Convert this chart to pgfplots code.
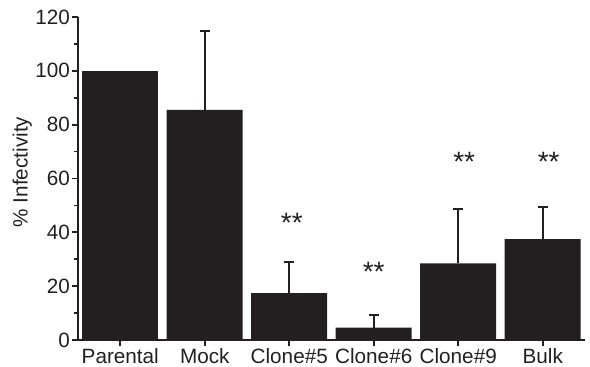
\documentclass[border=0pt]{standalone}
\usepackage{fontspec}
\setmainfont{Liberation Sans}
\usepackage{pgfplots}
\pgfplotsset{compat=1.18}
\definecolor{barc}{HTML}{231F20}
\begin{document}
\fontsize{20.7}{24}\selectfont
\begin{tikzpicture}
\useasboundingbox (-78pt,-27pt) rectangle (512pt,340pt);
\begin{axis}[
  at={(0,0)}, anchor=south west,
  scale only axis, width=507pt, height=323pt,
  xmin=-0.5, xmax=5.5, ymin=0, ymax=120,
  axis x line*=bottom, axis y line*=left,
  axis line style={line width=1.8pt, color=barc, -},
  ytick={0,20,...,120}, minor ytick={10,30,...,110},
  xtick={0,...,5},
  xticklabels={Parental,Mock,Clone\#5,Clone\#6,Clone\#9,Bulk},
  tick align=outside,
  major tick length=6pt, minor tick length=4pt,
  tick style={line width=1.8pt, color=barc},
  /pgf/number format/assume math mode=true,
  tick label style={font=\fontsize{20.7}{24}\selectfont, text=barc},
  yticklabel style={inner sep=1pt, xshift=-1pt},
  xticklabel style={inner sep=1pt, yshift=-1pt},
  ylabel={\% Infectivity},
  ylabel style={font=\fontsize{20.7}{24}\selectfont, text=barc, at={(axis description cs:-0.11,0.52)}, anchor=center},
  ybar, bar width=76pt,
  error bars/error bar style={draw=barc, line width=2pt, solid},
  error bars/error mark options={draw=barc, rotate=90, mark size=5pt, line width=2pt, solid},
]
\addplot[fill=barc, draw=none, bar shift=0pt] coordinates {(0,100)};
\addplot[fill=barc, draw=none, bar shift=0pt,
  error bars/.cd, y dir=plus, y explicit]
  coordinates {
    (1,85.5) +- (0,29.3)
    (2,17.4) +- (0,11.4)
    (3,4.6) +- (0,4.7)
    (4,28.5) +- (0,20.2)
    (5,37.5) +- (0,12.0)
  };
\node[anchor=base, text=barc, inner sep=0pt, font=\fontsize{28}{30}\selectfont] at (axis cs:2.03,39.8) {**};
\node[anchor=base, text=barc, inner sep=0pt, font=\fontsize{28}{30}\selectfont] at (axis cs:3.0,21.9) {**};
\node[anchor=base, text=barc, inner sep=0pt, font=\fontsize{28}{30}\selectfont] at (axis cs:4.07,62.5) {**};
\node[anchor=base, text=barc, inner sep=0pt, font=\fontsize{28}{30}\selectfont] at (axis cs:5.07,62.5) {**};
\end{axis}
\end{tikzpicture}
\end{document}
